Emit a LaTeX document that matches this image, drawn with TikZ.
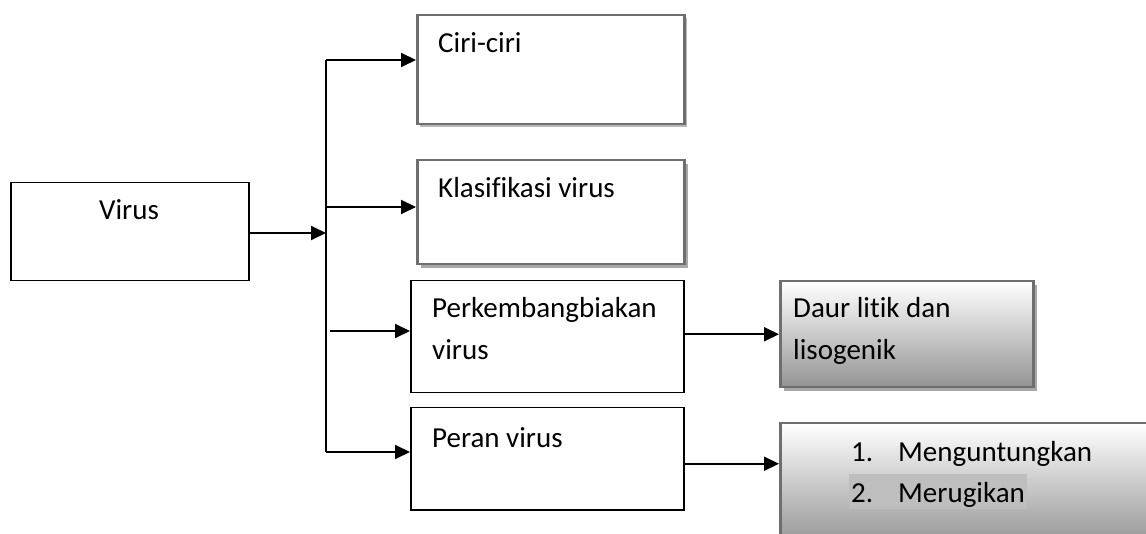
\documentclass[tikz,border=0pt]{standalone}
\usepackage{fontspec}
\setmainfont[Ligatures=NoCommon]{Carlito}
\usetikzlibrary{arrows.meta,shadows}
\definecolor{boxgray}{HTML}{6E6E6E}
\definecolor{lightshadow}{HTML}{C8C8C8}
\definecolor{darkshadow}{HTML}{A8A8A8}
\definecolor{marker}{HTML}{BEBEBE}

\begin{document}
\begin{tikzpicture}[x=1pt,y=-1pt,
  conn/.style={line width=2pt,-{Triangle[length=15pt,width=14pt]}},
  plainbox/.style={draw=black,line width=1.5pt,fill=white,anchor=north west,inner sep=0pt},
  graybox/.style={draw=boxgray,line width=2.5pt,fill=white,anchor=north west,inner sep=0pt,
    drop shadow={shadow xshift=#1,shadow yshift=-#1,opacity=1,fill=darkshadow}},
  shadebox/.style={draw=boxgray,line width=2.5pt,top color=white,bottom color=black!42,anchor=north west,inner sep=0pt},
  lbl/.style={anchor=base west,inner sep=0pt,font=\fontsize{29}{42}\selectfont,align=left}]
\useasboundingbox (0,0) rectangle (1146,534);
\clip (0,0) rectangle (1146,534);

\node[plainbox,minimum width=238pt,minimum height=98pt] (virus) at (10,182) {};
\node[graybox=3pt,drop shadow={fill=lightshadow},minimum width=267pt,minimum height=109pt] (ciri) at (416,14) {};
\node[graybox=4pt,minimum width=267pt,minimum height=104pt] (klas) at (416,159) {};
\node[plainbox,minimum width=273pt,minimum height=112pt] (perk) at (410,280) {};
\node[plainbox,minimum width=273pt,minimum height=102pt] (peran) at (410,407) {};
\node[shadebox,drop shadow={shadow xshift=4pt,shadow yshift=-4pt,opacity=1,fill=darkshadow},minimum width=253pt,minimum height=106pt] (daur) at (779,280) {};
\node[shadebox,minimum width=381pt,minimum height=123pt] (untung) at (779,422) {};

\node[lbl,anchor=base] (virusT) at (129,220) {Virus};
\node[lbl] (ciriT) at (438,53) {Ciri-ciri};
\node[lbl] (klasT) at (438,198) {Klasifikasi virus};
\node[lbl] (perkT) at (432,360) {Perkembangbiakan\\virus};
\node[lbl] (peranT) at (432,447) {Peran virus};
\node[lbl] (daurT) at (793,360) {Daur litik dan\\lisogenik};
\node[lbl] (satuT) at (851,461) {\makebox[47pt][l]{1.}Menguntungkan};
\node[lbl,fill=marker,inner xsep=2pt,text height=28pt,text depth=7pt] (duaT) at (849,502) {\makebox[47pt][l]{2.}Merugikan};

\coordinate (tv) at (326,233);
\coordinate (ttop) at (326,60);
\coordinate (tk) at (326,207);
\coordinate (tp) at (330,331);
\coordinate (tbot) at (326,452);

\draw[line width=2pt] (ttop) -- (tbot);
\draw[conn] (tv -| virus.east) -- (tv);
\draw[conn] (ttop) -- (ttop -| ciri.west);
\draw[conn] (tk) -- (tk -| klas.west);
\draw[conn] (tp) -- (tp -| perk.west);
\draw[conn] (tbot) -- (tbot -| peran.west);
\draw[conn] (daur.west -| perk.east) -- (daur.west);
\draw[conn] ([yshift=-5pt]peran.east) -- ([yshift=-5pt]peran.east -| untung.west);
\end{tikzpicture}
\end{document}
